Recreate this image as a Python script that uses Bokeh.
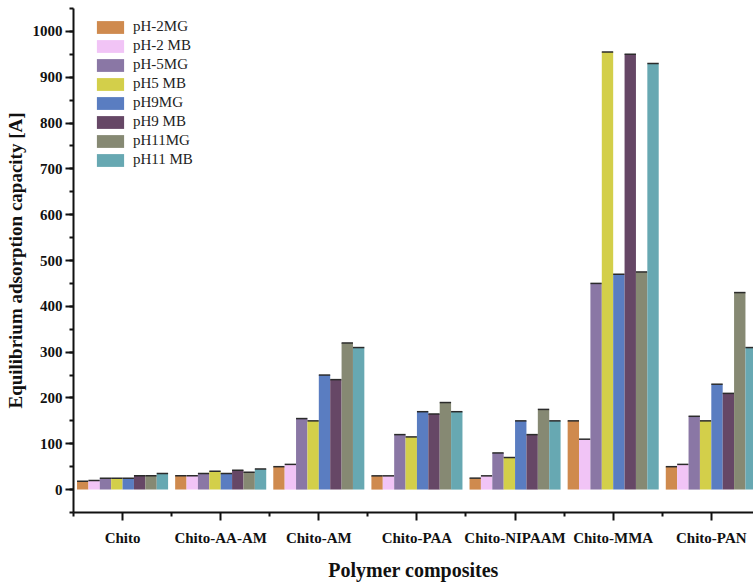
from bokeh.plotting import figure
from bokeh.models import (ColumnDataSource, Range1d, FixedTicker, SingleIntervalTicker,
                          Legend, LegendItem)
from bokeh.embed import file_html
from bokeh.resources import INLINE

# Polymer composites on the x axis
composites = ["Chito", "Chito-AA-AM", "Chito-AM", "Chito-PAA",
              "Chito-NIPAAM", "Chito-MMA", "Chito-PAN"]

# Equilibrium adsorption capacity per series (one value per composite)
ph2_mg = [18, 30, 50, 30, 25, 150, 50]
ph2_mb = [20, 30, 55, 30, 30, 110, 55]
ph5_mg = [25, 35, 155, 120, 80, 450, 160]
ph5_mb = [25, 40, 150, 115, 70, 955, 150]
ph9_mg = [25, 35, 250, 170, 150, 470, 230]
ph9_mb = [30, 42, 240, 165, 120, 950, 210]
ph11_mg = [30, 38, 320, 190, 175, 475, 430]
ph11_mb = [35, 45, 310, 170, 150, 930, 310]

series_names = ["pH-2MG", "pH-2 MB", "pH-5MG", "pH5 MB",
                "pH9MG", "pH9 MB", "pH11MG", "pH11 MB"]
series_values = [ph2_mg, ph2_mb, ph5_mg, ph5_mb, ph9_mg, ph9_mb, ph11_mg, ph11_mb]
series_colors = ["#CF8A4E", "#F1C4F6", "#8A77A5", "#D3CF4A",
                 "#5A7DC1", "#664766", "#868973", "#67A8B2"]

FONT = "Liberation Serif"
BAR_W = 0.116

p = figure(width=753, height=583, output_backend="svg", toolbar_location=None,
           x_range=Range1d(-0.5, 6.43), y_range=Range1d(-50, 1050),
           min_border_left=73, min_border_right=0, min_border_top=8,
           min_border_bottom=66)
p.outline_line_color = None
p.xgrid.grid_line_color = None
p.ygrid.grid_line_color = None
p.background_fill_color = "white"

items = []
n = len(series_names)
for i, (name, vals, col) in enumerate(zip(series_names, series_values, series_colors)):
    off = (i - (n - 1) / 2) * BAR_W
    xs = [k + off for k in range(len(composites))]
    src = ColumnDataSource(dict(x=xs, top=vals,
                                x0=[x - BAR_W / 2 for x in xs],
                                x1=[x + BAR_W / 2 for x in xs]))
    r = p.vbar(x="x", top="top", bottom=0, width=BAR_W, source=src,
               fill_color=col, line_color=None)
    # dark cap along the top edge of each bar
    p.segment(x0="x0", x1="x1", y0="top", y1="top", source=src,
              line_color="#2b2b2b", line_width=1.5)
    items.append(LegendItem(label=name, renderers=[r]))

legend = Legend(items=items, location=(20, 344), margin=0, padding=0,
                glyph_width=34, glyph_height=16, label_height=16, spacing=2,
                label_standoff=6, label_text_font=FONT, label_text_font_size="15px",
                label_text_color="#222222",
                border_line_color=None, background_fill_alpha=0)
p.add_layout(legend)

# x axis: categories at integer positions, minor ticks at group boundaries
xa = p.xaxis[0]
xa.ticker = FixedTicker(ticks=list(range(len(composites))),
                        minor_ticks=[k - 0.5 for k in range(len(composites) + 1)])
xa.major_label_overrides = {k: c for k, c in enumerate(composites)}
xa.axis_label = "Polymer composites"

ya = p.yaxis[0]
ya.ticker = SingleIntervalTicker(interval=100, num_minor_ticks=2)
ya.axis_label = "Equilibrium adsorption capacity [A]"

for ax in (xa, ya):
    ax.axis_line_width = 2
    ax.axis_line_color = "#111111"
    ax.major_tick_line_width = 2
    ax.minor_tick_line_width = 2
    ax.major_tick_line_color = "#111111"
    ax.minor_tick_line_color = "#111111"
    ax.major_tick_in = 0
    ax.minor_tick_in = 0
    ax.major_tick_out = 8
    ax.minor_tick_out = 4
    ax.major_label_text_font = FONT
    ax.major_label_text_font_style = "bold"
    ax.major_label_text_font_size = "15px"
    ax.major_label_text_color = "#111111"
    ax.axis_label_text_font = FONT
    ax.axis_label_text_font_style = "bold"
    ax.axis_label_text_color = "#111111"

xa.major_label_standoff = 9
xa.axis_label_text_font_size = "20px"
xa.axis_label_standoff = 10
ya.major_label_standoff = 3
ya.axis_label_text_font_size = "19px"
ya.axis_label_standoff = 4

open("out.html", "w").write(file_html(p, INLINE))
